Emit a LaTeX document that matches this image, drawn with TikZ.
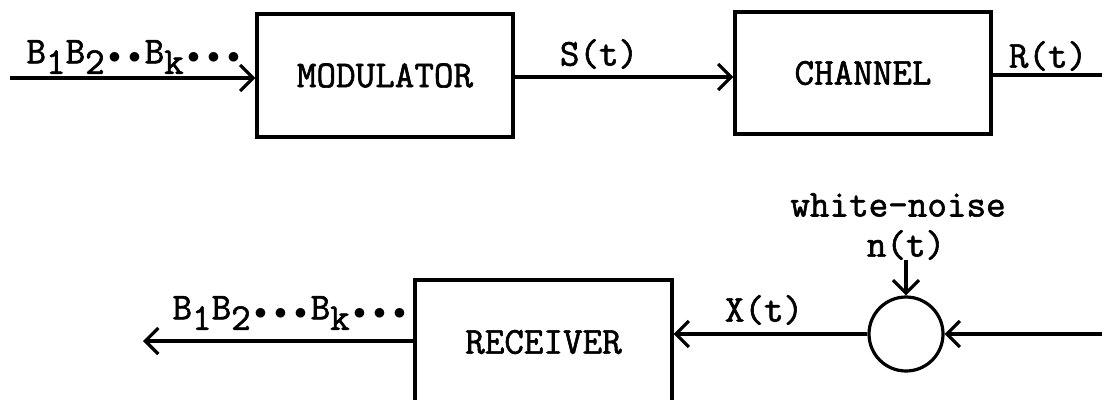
\documentclass[tikz,border=0pt]{standalone}
\usepackage{fontspec}
\newfontfamily\typew[FakeBold=1.6]{Latin Modern Mono}
\usetikzlibrary{arrows.meta, positioning}

\newcommand{\lowsub}[1]{\raisebox{-0.28em}{#1}}
\newcommand{\bdot}{\makebox[0.525em]{$\bullet$}}

\begin{document}
\begin{tikzpicture}[
    x=1pt, y=-1pt,
    block/.style={rectangle, draw, line width=3.2pt, font=\typew\fontsize{38}{40}\selectfont},
    sig/.style={font=\typew\fontsize{38}{40}\selectfont, inner sep=0pt},
    line/.style={draw, line width=3.2pt, -{Straight Barb[length=13pt, width=26pt, line width=3.2pt]}}
]
\useasboundingbox (0,0) rectangle (1102,399);
\clip (0,0) rectangle (1102,399);

\node [block, minimum width=256pt, minimum height=123pt] (mod) at (385,75.5) {MODULATOR};
\node [block, minimum width=256pt, minimum height=122pt] (chan) at (863,73) {CHANNEL};
\node [block, minimum width=257pt, minimum height=124pt] (rec) at (543.5,342) {RECEIVER};
\node [circle, draw, line width=3.2pt, minimum size=74pt] (sum) at (906,334) {};

\coordinate (in) at (10,78);
\coordinate (rout) at (1102,75);
\coordinate (rin) at (1102,334);
\coordinate (out) at (143,341);

\node [sig] (bin) at (135,57) {B\lowsub{1}B\lowsub{2}\bdot\bdot B\lowsub{k}\bdot\bdot\bdot};
\node [sig] (st) at (599,54) {S(t)};
\node [sig] (rt) at (1048,56) {R(t)};
\node [sig] (wn) at (898,205) {white-noise};
\node [sig] (nt) at (906,245) {n(t)};
\node [sig] (xt) at (764,310) {X(t)};
\node [sig] (bout) at (291,313) {B\lowsub{1}B\lowsub{2}\bdot\bdot\bdot B\lowsub{k}\bdot\bdot\bdot};

\path [line] (in) -- (in -| mod.west);
\path [line] (mod.east |- 0,77) -- (chan.west |- 0,77);
\draw [line width=3.2pt] (chan.east |- rout) -- (rout);
\path [line] (rin) -- (sum.east);
\path [line] (nt.south) -- (sum.north);
\path [line] (sum.west) -- (rec.east |- sum.west);
\path [line] (rec.west |- out) -- (out);
\end{tikzpicture}
\end{document}
